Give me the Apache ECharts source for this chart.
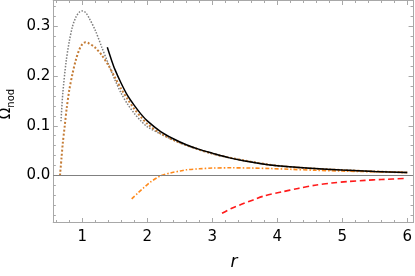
<!DOCTYPE html>
<html>
<head>
<meta charset="utf-8">
<script src="https://cdn.jsdelivr.net/npm/echarts@6/dist/echarts.min.js"></script>
<style>html,body{margin:0;padding:0;background:#fff}#c{width:415px;height:276px}</style>
</head>
<body>
<div id="c"></div>
<script>
// ---- data ----
const grayR   = [0.672,0.70,0.75,0.80,0.85,0.90,0.95,1.00,1.05,1.10,1.20,1.30,1.40,1.50,1.60,1.70,1.80,1.90,2.00,2.20,2.50,3.00,3.50,4.00,4.50,5.00,5.50,6.00];
const grayY   = [0.109,0.165,0.228,0.270,0.300,0.318,0.328,0.331,0.328,0.318,0.292,0.258,0.225,0.193,0.165,0.143,0.125,0.110,0.098,0.084,0.066,0.044,0.030,0.0197,0.0145,0.011,0.0082,0.006];
const orDotR  = [0.657,0.68,0.70,0.73,0.76,0.80,0.85,0.90,0.95,1.00,1.05,1.10,1.20,1.30,1.40,1.50,1.60,1.70,1.80,1.90,2.00,2.20,2.50,3.00,3.50,4.00,4.50,5.00,5.50,6.00];
const orDotY  = [0.0,0.035,0.065,0.100,0.135,0.172,0.205,0.232,0.252,0.264,0.268,0.266,0.257,0.242,0.222,0.198,0.174,0.153,0.134,0.118,0.104,0.085,0.066,0.044,0.030,0.0197,0.0145,0.011,0.0082,0.006];
const blackR  = [1.385,1.45,1.50,1.60,1.70,1.80,1.90,2.00,2.20,2.40,2.60,2.80,3.00,3.25,3.50,3.75,4.00,4.50,5.00,5.50,6.00];
const blackY  = [0.258,0.232,0.214,0.185,0.160,0.141,0.124,0.110,0.089,0.074,0.062,0.0525,0.045,0.036,0.029,0.0237,0.0197,0.0145,0.011,0.0082,0.006];
const dashDotR= [1.76,1.85,1.95,2.05,2.20,2.35,2.50,2.60,2.80,3.00,3.30,3.60,3.90,4.20,4.60,5.00,5.50,6.00];
const dashDotY= [-0.047,-0.036,-0.024,-0.013,-0.001,0.005,0.009,0.0115,0.0135,0.015,0.0155,0.015,0.014,0.0125,0.0105,0.009,0.0075,0.006];
const redR    = [3.15,3.30,3.45,3.63,3.80,4.07,4.32,4.58,4.84,5.09,5.35,5.60,6.00];
const redY    = [-0.076,-0.066,-0.058,-0.049,-0.041,-0.033,-0.026,-0.0195,-0.015,-0.012,-0.0098,-0.008,-0.0058];

const xMajor = [1,2,3,4,5,6];
const xMinor = [0.6,0.8,1.2,1.4,1.6,1.8,2.2,2.4,2.6,2.8,3.2,3.4,3.6,3.8,4.2,4.4,4.6,4.8,5.2,5.4,5.6,5.8,6.0];
const yMajor = [0,0.1,0.2,0.3];
const yMinor = [-0.08,-0.06,-0.04,-0.02,0.02,0.04,0.06,0.08,0.12,0.14,0.16,0.18,0.22,0.24,0.26,0.28,0.32,0.34];
const yTickLabels = ['0.0','0.1','0.2','0.3'];
const xTickLabels = ['1','2','3','4','5','6'];

const xMin = 0.554, xMax = 6.09, yMin = -0.0945, yMax = 0.352;
const pairs = (a, b) => a.map((v, i) => [v, b[i]]);

const FONT = 'DejaVu Sans';
const frameColor = '#a8a8a8';

function xAx(pos, ticks, len, labels) {
  return {
    type: 'value', position: pos, min: xMin, max: xMax,
    axisLine: { show: true, onZero: false, lineStyle: { color: frameColor, width: 1 } },
    splitLine: { show: false },
    axisTick: { show: true, inside: true, length: len, customValues: ticks, lineStyle: { color: frameColor } },
    axisLabel: labels ? { show: true, customValues: xMajor, formatter: v => xTickLabels[xMajor.indexOf(Math.round(v))] ?? '', color: '#000', fontFamily: FONT, fontSize: 15, margin: 7 } : { show: false }
  };
}
function yAx(pos, ticks, len, labels) {
  return {
    type: 'value', position: pos, min: yMin, max: yMax,
    axisLine: { show: true, onZero: false, lineStyle: { color: frameColor, width: 1 } },
    splitLine: { show: false },
    axisTick: { show: true, inside: true, length: len, customValues: ticks, lineStyle: { color: frameColor } },
    axisLabel: labels ? { show: true, customValues: yMajor, formatter: v => { const i = yMajor.findIndex(t => Math.abs(t - v) < 1e-6); return i >= 0 ? yTickLabels[i] : ''; }, color: '#000', fontFamily: FONT, fontSize: 15, margin: 3 } : { show: false }
  };
}

const chart = echarts.init(document.getElementById('c'), null, { renderer: 'canvas' });
chart.setOption({
  animation: false,
  backgroundColor: '#fff',
  grid: { left: 53.3, right: 1.7, top: 0.5, bottom: 53.5, containLabel: false },
  xAxis: [
    xAx('bottom', xMajor, 4.5, true),
    xAx('bottom', xMinor, 2.5, false),
    xAx('top', xMajor, 4.5, false),
    xAx('top', xMinor, 2.5, false)
  ],
  yAxis: [
    yAx('left', yMajor, 4.5, true),
    yAx('left', yMinor, 2.5, false),
    yAx('right', yMajor, 4.5, false),
    yAx('right', yMinor, 2.5, false)
  ],
  graphic: [
    {
      type: 'text', x: 14, y: 104, rotation: Math.PI / 2,
      style: {
        text: '{a|Ω}{b|nod}',
        align: 'center', verticalAlign: 'bottom',
        rich: {
          a: { fontFamily: FONT, fontSize: 15, fill: '#000', verticalAlign: 'bottom' },
          b: { fontFamily: FONT, fontSize: 10, fill: '#000', verticalAlign: 'bottom', padding: [0, 0, -2, 0] }
        }
      }
    },
    {
      type: 'text', x: 234, y: 263,
      style: { text: 'r', fontFamily: FONT, fontSize: 17, fontStyle: 'italic', fill: '#000', align: 'center', verticalAlign: 'middle' }
    }
  ],
  series: [
    {
      type: 'line', data: pairs(grayR, grayY), showSymbol: false, smooth: 0.3,
      lineStyle: { color: '#7e7e7e', width: 1.5, type: [1.5, 1.5] }, z: 3,
      markLine: {
        silent: true, symbol: 'none', label: { show: false },
        lineStyle: { color: '#808080', width: 1, type: 'solid' },
        data: [{ yAxis: 0 }]
      }
    },
    {
      type: 'line', data: pairs(orDotR, orDotY), showSymbol: false, smooth: 0.3,
      lineStyle: { color: '#c47c36', width: 2, type: [2, 2] }, z: 4
    },
    {
      type: 'line', data: pairs(blackR, blackY), showSymbol: false, smooth: 0.3,
      lineStyle: { color: '#000', width: 1.5, type: 'solid' }, z: 5
    },
    {
      type: 'line', data: pairs(dashDotR, dashDotY), showSymbol: false, smooth: 0.3,
      lineStyle: { color: '#ff8a1c', width: 1.6, type: [4, 2, 1.5, 2] }, z: 4
    },
    {
      type: 'line', data: pairs(redR, redY), showSymbol: false, smooth: 0.3,
      lineStyle: { color: '#ff1a1a', width: 1.6, type: [6, 3.5] }, z: 4
    }
  ]
});
</script>
</body>
</html>
